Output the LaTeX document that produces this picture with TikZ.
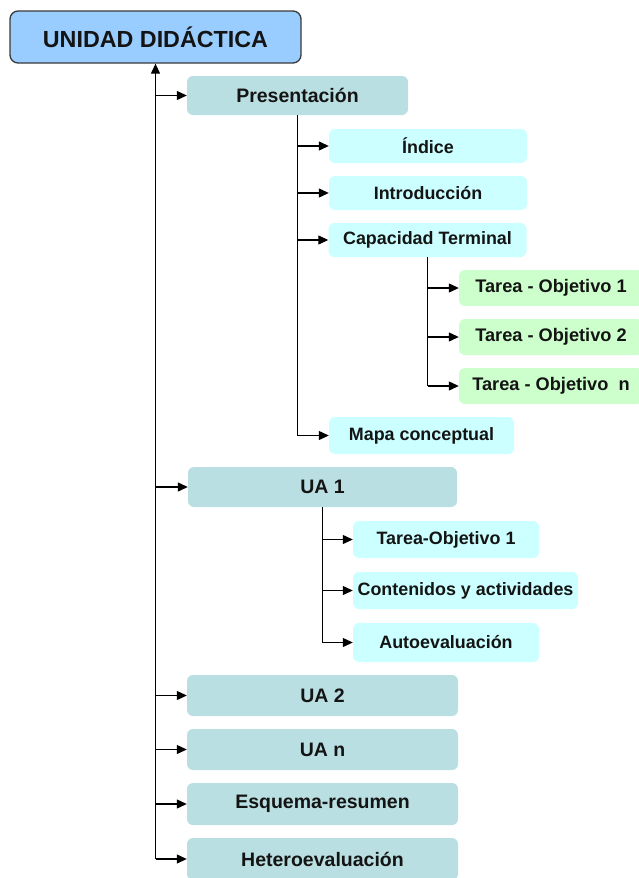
\documentclass[tikz,border=0pt]{standalone}
\usepackage{fontspec}
\setmainfont{Liberation Sans}
\usetikzlibrary{arrows.meta}
\definecolor{titlefill}{HTML}{99CCFF}
\definecolor{titleline}{HTML}{3A3A3A}
\definecolor{tealfill}{HTML}{BADFE2}
\definecolor{cyanfill}{HTML}{CCFFFF}
\definecolor{greenfill}{HTML}{CCFFCC}
\definecolor{txt}{HTML}{141414}
\begin{document}
\begin{tikzpicture}[x=1pt,y=1pt,
  base/.style={rounded corners=6pt, inner sep=0pt, text=txt},
  titlebox/.style={base, fill=titlefill, draw=titleline, line width=1.3pt,
    rounded corners=8pt, font=\bfseries\fontsize{23.3}{26}\selectfont},
  tealbox/.style={base, fill=tealfill, font=\bfseries\fontsize{19.5}{22}\selectfont},
  cyanbox/.style={base, fill=cyanfill, font=\bfseries\fontsize{17.9}{20}\selectfont},
  greenbox/.style={base, fill=greenfill, font=\bfseries\fontsize{18.2}{20}\selectfont},
  conn/.style={line width=1.2pt, black},
  arr/.style={conn, -{Triangle[length=10pt,width=9pt]}}
]
\useasboundingbox (0,0) rectangle (639,-878);
\clip (0,0) rectangle (639,-878);

\node[titlebox, minimum width=291pt, minimum height=52pt] (title) at (155.5,-37) {UNIDAD DIDÁCTICA};

\node[tealbox, minimum width=221pt, minimum height=39pt] (pres) at (297.5,-95.5) {Presentación};
\node[cyanbox, minimum width=198pt, minimum height=34pt] (indice) at (428,-146) {Índice};
\node[cyanbox, minimum width=198pt, minimum height=34pt] (intro) at (428,-193) {Introducción};
\node[cyanbox, minimum width=198pt, minimum height=34pt] (capac) at (427.5,-240) {Capacidad Terminal};
\node[greenbox, minimum width=184pt, minimum height=36pt] (t1) at (551,-288) {Tarea - Objetivo 1};
\node[greenbox, minimum width=184pt, minimum height=36pt] (t2) at (551,-337) {Tarea - Objetivo 2};
\node[greenbox, minimum width=184pt, minimum height=36pt] (tn) at (551,-386) {Tarea - Objetivo \ n};
\node[cyanbox, minimum width=185pt, minimum height=37pt] (mapa) at (421.5,-435.5) {Mapa conceptual};

\node[tealbox, minimum width=269pt, minimum height=40pt] (ua1) at (322.5,-487) {UA 1};
\node[cyanbox, minimum width=186pt, minimum height=37pt] (to1) at (446,-539.5) {Tarea-Objetivo 1};
\node[cyanbox, minimum width=225pt, minimum height=37pt] (cont) at (465.5,-590.5) {Contenidos y actividades};
\node[cyanbox, minimum width=186pt, minimum height=39pt] (autoev) at (446,-642.5) {Autoevaluación};

\node[tealbox, minimum width=271pt, minimum height=41pt] (ua2) at (322.5,-695.5) {UA 2};
\node[tealbox, minimum width=271pt, minimum height=41pt] (uan) at (322.5,-749.5) {UA n};
\node[tealbox, minimum width=271pt, minimum height=42pt] (esq) at (322.5,-804) {Esquema-resumen};
\node[tealbox, minimum width=271pt, minimum height=42pt] (het) at (322.5,-859) {Heteroevaluación};

% main spine
\draw[arr] (het.west -| title.south) -- (title.south);
\foreach \n in {pres,ua1,ua2,uan,esq,het}
  \draw[arr] (\n.west -| title.south) -- (\n.west);

% Presentación branch
\draw[conn] (pres.south) -- (mapa.west -| pres.south);
\foreach \n in {indice,intro,capac,mapa}
  \draw[arr] (\n.west -| pres.south) -- (\n.west);

% Capacidad Terminal branch
\draw[conn] (capac.south) -- (tn.west -| capac.south);
\foreach \n in {t1,t2,tn}
  \draw[arr] (\n.west -| capac.south) -- (\n.west);

% UA 1 branch
\draw[conn] (ua1.south) -- (autoev.west -| ua1.south);
\foreach \n in {to1,cont,autoev}
  \draw[arr] (\n.west -| ua1.south) -- (\n.west);
\end{tikzpicture}
\end{document}
